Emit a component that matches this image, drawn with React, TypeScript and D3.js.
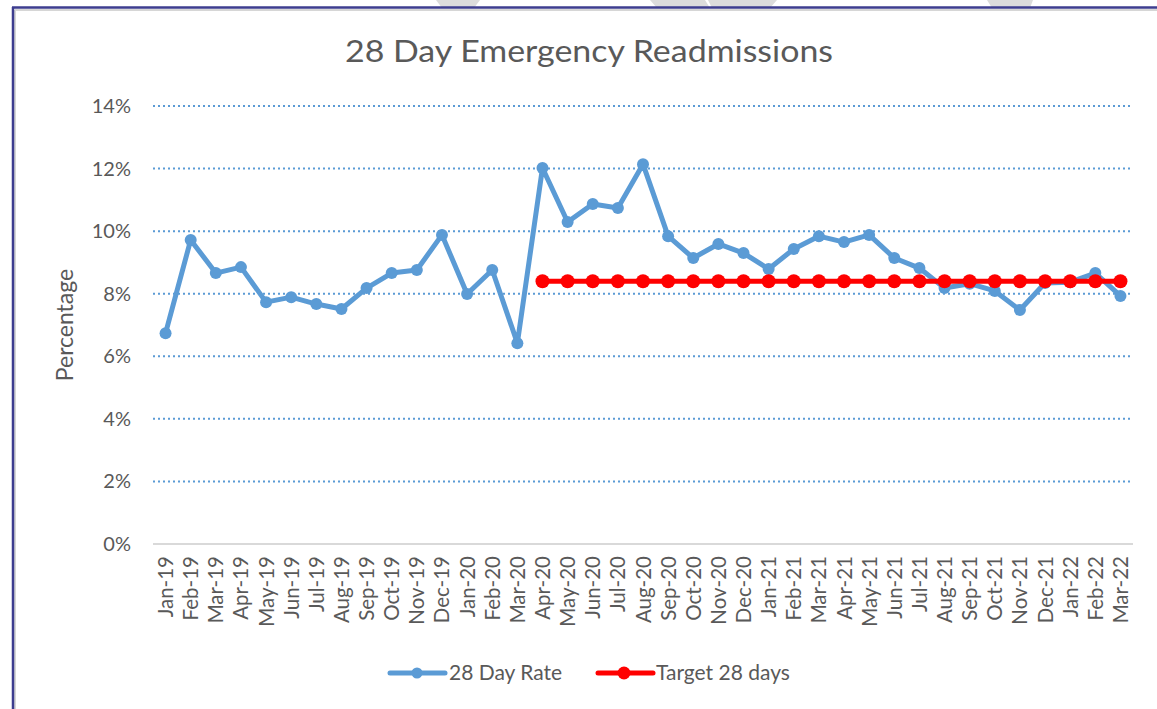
import React from "react";
import * as d3 from "d3";

const months: string[] = [
  "Jan-19","Feb-19","Mar-19","Apr-19","May-19","Jun-19","Jul-19","Aug-19","Sep-19","Oct-19","Nov-19","Dec-19",
  "Jan-20","Feb-20","Mar-20","Apr-20","May-20","Jun-20","Jul-20","Aug-20","Sep-20","Oct-20","Nov-20","Dec-20",
  "Jan-21","Feb-21","Mar-21","Apr-21","May-21","Jun-21","Jul-21","Aug-21","Sep-21","Oct-21","Nov-21","Dec-21",
  "Jan-22","Feb-22","Mar-22",
];

const rate28: number[] = [
  6.74, 9.72, 8.66, 8.85, 7.73, 7.89, 7.67, 7.51, 8.18, 8.66, 8.76, 9.88,
  7.99, 8.76, 6.42, 12.02, 10.29, 10.87, 10.74, 12.14, 9.84, 9.14, 9.59, 9.3,
  8.79, 9.43, 9.84, 9.65, 9.88, 9.14, 8.82, 8.18, 8.32, 8.09, 7.48, 8.34,
  8.37, 8.66, 7.93,
];

const target28: (number | null)[] = [
  null, null, null, null, null, null, null, null, null, null, null, null,
  null, null, null, 8.4, 8.4, 8.4, 8.4, 8.4, 8.4, 8.4, 8.4, 8.4,
  8.4, 8.4, 8.4, 8.4, 8.4, 8.4, 8.4, 8.4, 8.4, 8.4, 8.4, 8.4,
  8.4, 8.4, 8.4,
];

const yTicks: number[] = [0, 2, 4, 6, 8, 10, 12, 14];

const seriesNames: string[] = ["28 Day Rate", "Target 28 days"];

const W = 1157;
const H = 709;
const FONT = "Lato, 'Open Sans', sans-serif";
const TEXT = "#595959";
const BLUE = "#5b9bd5";
const RED = "#ff0000";

export default function App() {
  const x = d3.scalePoint<string>().domain(months).range([153, 1133]).padding(0.5);
  const y = d3.scaleLinear().domain([0, 14]).range([544, 106]);

  const line = d3
    .line<number | null>()
    .defined((d) => d != null)
    .x((_, i) => x(months[i]) as number)
    .y((d) => y(d as number));

  const ratePath = line(rate28) || "";
  const targetPath = line(target28) || "";

  return (
    <div style={{ position: "absolute", left: 0, top: 0 }}>
      <svg width={W} height={H} style={{ display: "block", background: "#fff" }}>
        {/* faint watermark shapes at the top edge */}
        <g fill="#dcdcdc">
          <polygon points="436,0 480,0 474,8 442,8" />
          <polygon points="650,0 705,0 710,8 657,8" />
          <polygon points="708,0 777,0 770,8 712,8" />
          <polygon points="987,0 1033,0 1030,8 992,8" />
        </g>
        {/* frame */}
        <line x1={15} y1={10} x2={W} y2={10} stroke="#d6d6d6" strokeWidth={2} />
        <line x1={15} y1={10} x2={15} y2={H} stroke="#d6d6d6" strokeWidth={2} />
        <line x1={12} y1={7.5} x2={W} y2={7.5} stroke="#3d3d8f" strokeWidth={2.5} />
        <line x1={13} y1={7} x2={13} y2={H} stroke="#3d3d8f" strokeWidth={2.5} />

        {/* title */}
        <text
          x={589}
          y={62}
          textAnchor="middle"
          fontFamily={FONT}
          fontSize={30}
          fill={TEXT}
          textLength={488}
          lengthAdjust="spacingAndGlyphs"
        >
          28 Day Emergency Readmissions
        </text>

        {/* gridlines */}
        {yTicks.map((t) =>
          t === 0 ? (
            <line key={t} x1={153} x2={1133} y1={y(t)} y2={y(t)} stroke="#d9d9d9" strokeWidth={2} />
          ) : (
            <line
              key={t}
              x1={153}
              x2={1133}
              y1={y(t)}
              y2={y(t)}
              stroke={BLUE}
              strokeWidth={2}
              strokeDasharray="2,3"
            />
          )
        )}

        {/* y tick labels */}
        {yTicks.map((t) => (
          <text
            key={"l" + t}
            x={131}
            y={y(t)}
            dy="0.35em"
            textAnchor="end"
            fontFamily={FONT}
            fontSize={20}
            fill={TEXT}
          >
            {t + "%"}
          </text>
        ))}

        {/* y axis title */}
        <text
          transform={`translate(73,325) rotate(-90)`}
          textAnchor="middle"
          fontFamily={FONT}
          fontSize={23}
          fill={TEXT}
        >
          Percentage
        </text>

        {/* x tick labels */}
        {months.map((m) => (
          <text
            key={m}
            transform={`translate(${(x(m) as number) + 7.5},556) rotate(-90)`}
            textAnchor="end"
            fontFamily={FONT}
            fontSize={20.5}
            fill={TEXT}
          >
            {m}
          </text>
        ))}

        {/* 28 day rate */}
        <path d={ratePath} fill="none" stroke={BLUE} strokeWidth={5} strokeLinejoin="round" />
        {rate28.map((v, i) => (
          <circle key={"r" + i} cx={x(months[i]) as number} cy={y(v)} r={6} fill={BLUE} />
        ))}

        {/* target */}
        <path d={targetPath} fill="none" stroke={RED} strokeWidth={5} />
        {target28.map((v, i) =>
          v == null ? null : (
            <circle key={"t" + i} cx={x(months[i]) as number} cy={y(v)} r={7} fill={RED} />
          )
        )}

        {/* legend */}
        <g>
          <line x1={390} x2={445} y1={673} y2={673} stroke={BLUE} strokeWidth={5} strokeLinecap="round" />
          <circle cx={417} cy={673} r={5.5} fill={BLUE} />
          <text x={449} y={673} dy="0.35em" fontFamily={FONT} fontSize={21} fill={TEXT}>
            {seriesNames[0]}
          </text>
          <line x1={598} x2={653} y1={673} y2={673} stroke={RED} strokeWidth={5} strokeLinecap="round" />
          <circle cx={624} cy={673} r={6.5} fill={RED} />
          <text x={656} y={673} dy="0.35em" fontFamily={FONT} fontSize={21} fill={TEXT}>
            {seriesNames[1]}
          </text>
        </g>
      </svg>
    </div>
  );
}
